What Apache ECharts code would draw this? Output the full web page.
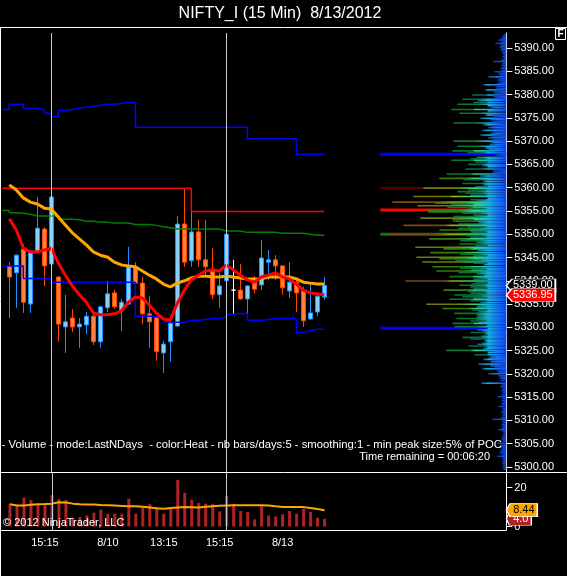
<!DOCTYPE html>
<html><head><meta charset="utf-8">
<script src="https://cdn.jsdelivr.net/npm/echarts@6/dist/echarts.min.js"></script>
<style>html,body{margin:0;padding:0;background:#000;}#c{width:567px;height:576px;}</style>
</head><body><div id="c"></div>
<script>
// ---------------- data ----------------
const times = ['8/9 14:00','8/9 14:15','8/9 14:30','8/9 14:45','8/9 15:00','8/9 15:15','8/9 15:30',
 '8/10 09:30','8/10 09:45','8/10 10:00','8/10 10:15','8/10 10:30','8/10 10:45','8/10 11:00','8/10 11:15','8/10 11:30','8/10 11:45',
 '8/10 12:00','8/10 12:15','8/10 12:30','8/10 12:45','8/10 13:00','8/10 13:15','8/10 13:30','8/10 13:45','8/10 14:00','8/10 14:15',
 '8/10 14:30','8/10 14:45','8/10 15:00','8/10 15:15','8/10 15:30',
 '8/13 09:30','8/13 09:45','8/13 10:00','8/13 10:15','8/13 10:30','8/13 10:45','8/13 11:00','8/13 11:15','8/13 11:30','8/13 11:45',
 '8/13 12:00','8/13 12:15','8/13 12:30','8/13 12:45'];
const tickIdx  = [5, 14, 22, 30, 39];
const tickText = ['15:15', '8/10', '13:15', '15:15', '8/13'];
const sessionBreaks = [6, 31];

const opens  = [5343.2,5341.7,5346.8,5335.0,5346.2,5351.1,5343.6,5340.8,5330.1,5332.0,5330.1,5330.5,5332.4,5326.9,5334.2,5337.4,5333.5,5335.0,5343.0,5339.5,5332.9,5332.0,5324.5,5326.9,5330.3,5352.2,5344.3,5350.5,5344.5,5342.5,5337.0,5340.0,5338.0,5338.0,5336.1,5340.0,5339.1,5344.0,5344.5,5343.2,5337.8,5339.7,5337.8,5331.8,5333.3,5336.5];
const closes = [5340.8,5345.5,5335.4,5346.4,5351.3,5343.2,5358.0,5330.7,5331.2,5330.1,5330.7,5332.4,5326.9,5334.4,5337.2,5334.4,5335.4,5343.0,5339.5,5332.9,5331.2,5324.8,5326.4,5330.9,5352.2,5344.0,5350.5,5344.5,5343.0,5337.0,5338.9,5350.0,5338.0,5336.1,5338.9,5338.2,5344.9,5344.5,5343.2,5338.5,5339.7,5337.4,5331.4,5333.1,5336.7,5339.0];
const lows   = [5332.0,5334.2,5333.1,5333.1,5346.0,5338.9,5343.4,5326.9,5324.5,5329.0,5325.6,5328.6,5326.2,5325.6,5333.3,5334.0,5329.2,5334.8,5337.4,5330.7,5325.6,5322.8,5320.2,5322.6,5330.0,5343.0,5343.0,5343.0,5341.0,5336.1,5334.2,5338.5,5332.9,5336.0,5331.4,5337.4,5338.0,5340.2,5340.2,5337.0,5336.3,5333.3,5330.1,5331.6,5332.4,5335.9];
const highs  = [5344.0,5345.7,5347.9,5346.6,5358.0,5351.5,5358.3,5341.0,5337.0,5333.9,5332.0,5333.3,5333.1,5334.6,5340.0,5338.0,5336.1,5347.3,5344.0,5340.8,5336.7,5332.2,5327.1,5332.6,5353.9,5359.9,5356.9,5353.1,5353.1,5347.0,5341.7,5353.9,5344.5,5343.6,5339.1,5341.0,5348.8,5346.6,5345.5,5343.4,5344.0,5340.2,5338.7,5339.3,5337.4,5340.8];

const fastMA = [5353.3,5350.9,5347.0,5346.2,5346.2,5346.6,5347.0,5343.8,5341.2,5338.9,5337.0,5335.4,5333.1,5332.7,5332.7,5332.9,5333.5,5335.4,5336.5,5336.3,5334.8,5333.1,5331.8,5331.6,5335.2,5338.0,5340.2,5341.2,5342.1,5342.3,5342.1,5343.4,5342.3,5341.2,5340.2,5339.7,5340.8,5341.2,5341.7,5340.8,5340.4,5339.3,5338.0,5337.4,5337.2,5336.95];
const slowMA = [5360.6,5359.5,5357.8,5356.9,5356.5,5355.6,5355.4,5353.7,5352.0,5350.3,5349.0,5347.7,5346.2,5345.5,5345.1,5344.0,5343.4,5343.2,5343.0,5342.1,5341.2,5340.4,5339.3,5338.7,5339.5,5340.0,5340.6,5341.0,5341.0,5340.8,5340.8,5341.0,5340.8,5340.6,5340.4,5340.4,5340.4,5340.8,5340.8,5340.8,5340.8,5340.4,5339.7,5339.5,5339.3,5339.3];

// step indicators: first value belongs to the bar before the first visible candle (index -1)
const greenStep = [5355.1,5354.6,5354.5,5354.3,5353.9,5353.9,5353.9,5353.9,5353.2,5353.2,5353.1,5352.8,5352.8,5352.6,5352.6,5352.4,5352.4,5352.4,5352.1,5352.1,5352.1,5351.9,5351.6,5351.4,5351.1,5351.1,5351.1,5351.1,5351.1,5351.1,5351.1,5350.7,5350.7,5350.7,5350.4,5350.4,5350.4,5350.4,5350.4,5350.2,5350.2,5350.2,5350.2,5350.0,5349.8,5349.8,5349.8];
const upperBand = [5376.8,5377.9,5377.9,5377.05,5377.05,5376.8,5376.0,5375.3,5376.6,5376.8,5377.05,5377.3,5377.5,5377.7,5377.9,5377.9,5378.1,5378.3,5378.3,5373.0,5373.0,5373.0,5373.0,5373.0,5373.0,5373.0,5373.0,5373.0,5373.0,5373.0,5373.0,5373.0,5373.0,5373.0,5373.0,5370.5,5370.5,5370.5,5370.5,5370.5,5370.5,5370.5,5367.2,5367.2,5367.2,5367.2,5367.2];
const lowerBand = [5343.2,5343.2,5343.2,5340.5,5340.5,5340.5,5340.5,5339.7,5339.7,5339.7,5339.7,5339.7,5339.7,5339.7,5339.7,5339.7,5339.7,5339.7,5339.7,5332.4,5332.4,5332.4,5332.4,5331.2,5331.1,5331.1,5331.5,5331.5,5331.7,5331.9,5331.9,5332.2,5332.8,5333.0,5333.0,5331.5,5331.5,5331.7,5331.9,5331.9,5331.9,5331.9,5328.9,5329.3,5329.6,5329.6,5329.6];
const priorHigh = [5359.9,5359.9,5359.9,5359.9,5359.9,5359.9,5359.9,5359.9,5359.9,5359.9,5359.9,5359.9,5359.9,5359.9,5359.9,5359.9,5359.9,5359.9,5359.9,5359.9,5359.9,5359.9,5359.9,5359.9,5359.9,5359.9,5359.9,5354.9,5354.9,5354.9,5354.9,5354.9,5354.9,5354.9,5354.9,5354.9,5354.9,5354.9,5354.9,5354.9,5354.9,5354.9,5354.9,5354.9,5354.9,5354.9,5354.9];

const volumes = [11.8,11.0,15.0,13.6,11.0,11.0,16.2,14.1,13.6,4.5,4.9,5.7,7.1,8.7,6.6,6.6,6.6,14.4,6.6,9.7,11.5,9.7,6.6,9.7,24.0,17.4,13.9,12.2,11.8,11.5,7.8,15.7,11.5,8.0,7.5,3.7,10.4,5.7,5.2,6.3,8.0,6.6,9.2,7.5,4.5,4.0];
const volMA   = [11.5,10.8,10.8,11.2,11.5,11.6,11.8,12.5,12.4,11.8,11.5,11.4,11.3,11.1,11.0,10.8,10.6,10.4,10.5,10.2,9.8,9.4,9.2,9.6,9.8,10.0,9.9,9.8,10.2,10.5,10.7,10.9,11.0,11.0,11.0,11.0,11.0,10.8,10.4,10.1,10.1,10.1,10.0,9.6,9.0,8.44];

const profPrices = [5392.8,5392.4,5392.0,5391.7,5391.3,5391.0,5390.6,5390.2,5389.9,5389.6,
 5389.2,5388.9,5388.5,5388.1,5387.7,5387.4,5387.1,5386.7,5386.3,5385.9,
 5385.6,5385.2,5384.9,5384.5,5384.2,5383.8,5383.4,5383.1,5382.7,5382.4,
 5382.1,5381.7,5381.3,5381.0,5380.6,5380.3,5379.9,5379.6,5379.3,5379.0,
 5378.7,5378.3,5377.9,5377.6,5377.2,5376.8,5376.5,5376.0,5375.6,5375.3,
 5374.9,5374.6,5374.25,5373.9,5373.5,5373.2,5372.9,5372.6,5372.3,5372.0,
 5371.65,5371.3,5371.0,5370.7,5370.35,5370.0,5369.7,5369.4,5369.2,5368.9,
 5368.5,5368.2,5367.9,5367.5,5367.2,5366.9,5366.5,5366.2,5365.9,5365.5,
 5365.0,5364.75,5364.5,5364.0,5363.6,5363.3,5362.95,5362.5,5362.0,5361.7,
 5361.3,5360.9,5360.6,5360.2,5359.9,5359.5,5359.15,5358.8,5358.4,5358.1,
 5357.75,5357.4,5357.15,5356.9,5356.65,5356.4,5356.1,5355.8,5355.5,5355.15,
 5354.8,5354.5,5354.1,5353.8,5353.45,5353.1,5352.8,5352.5,5352.2,5351.9,
 5351.6,5351.3,5350.9,5350.6,5350.3,5350.0,5349.7,5349.35,5349.0,5348.6,
 5348.3,5347.9,5347.55,5347.2,5346.85,5346.5,5346.05,5345.7,5345.35,5345.05,
 5344.75,5344.4,5344.05,5343.75,5343.45,5343.0,5342.7,5342.4,5342.1,5341.8,
 5341.5,5341.2,5340.9,5340.6,5340.3,5339.95,5339.6,5339.3,5339.05,5338.7,
 5338.35,5338.0,5337.7,5337.35,5336.95,5336.6,5336.3,5336.05,5335.7,5335.3,
 5334.95,5334.6,5334.35,5334.05,5333.7,5333.35,5333.0,5332.7,5332.45,5332.2,
 5331.9,5331.6,5331.35,5331.1,5330.85,5330.5,5330.15,5329.8,5329.45,5329.2,
 5328.9,5328.6,5328.35,5328.1,5327.85,5327.5,5327.2,5326.9,5326.6,5326.35,
 5326.0,5325.7,5325.45,5325.05,5324.75,5324.55,5324.1,5323.85,5323.6,5323.35,
 5323.1,5322.85,5322.6,5322.35,5322.1,5321.7,5321.4,5321.1,5320.85,5320.6,
 5320.3,5320.05,5319.6,5319.3,5319.0,5318.6,5318.0,5317.6,5317.2,5316.8,
 5316.4,5316.0,5315.5,5315.1,5314.7,5314.3,5313.9,5313.5,5313.0,5312.6,
 5312.2,5311.8,5311.4,5311.0,5310.6,5310.25,5309.9,5309.5,5309.1,5308.7,
 5308.3,5308.0,5307.6,5307.2,5306.8,5306.4,5306.0,5305.6,5305.1,5304.7,
 5304.3,5303.9,5303.5,5303.1,5302.7,5302.3,5301.9,5301.5,5301.1,5300.7,
 5300.3,5299.9,5299.5];
const profVols = [3,4,5,8,5,11,6,7,5,6,
 4,4,3,4,3,5,13,4,5,4,
 6,5,12,8,7,18,8,9,7,9,
 23,11,10,21,13,12,34,13,12,44,
 29,33,49,19,16,55,19,47,21,14,
 26,16,14,53,23,15,18,14,24,13,
 16,26,15,18,14,53,16,14,17,49,
 21,18,54,39,11,11,30,36,55,31,
 38,24,19,41,13,14,60,26,67,43,
 23,44,23,31,83,38,49,41,36,93,
 19,36,30,114,71,55,89,59,38,79,
 78,44,33,53,86,54,53,28,48,103,
 39,48,67,36,34,118,40,36,77,46,
 30,47,31,91,63,29,76,46,33,90,
 67,51,84,33,23,74,46,35,70,48,
 30,23,57,30,33,101,31,35,47,36,
 33,63,39,36,52,44,33,57,36,26,
 80,29,30,64,34,28,52,30,28,30,
 50,30,36,28,54,20,52,19,29,24,
 36,22,19,25,44,36,22,21,24,29,
 38,20,23,60,18,19,32,17,16,18,
 23,15,16,14,28,16,12,24,10,9,
 8,18,8,7,6,6,25,5,6,4,
 5,4,5,9,4,5,4,5,8,4,
 4,5,4,4,5,14,4,4,5,4,
 5,8,4,3,4,4,5,4,9,6,
 7,5,6,7,5,9,4,4,4,4,
 3,4,3];
const peakPrices = [5367.2, 5359.9, 5355.2, 5350.0, 5329.8];
const peakKinds  = ['low', 'high', 'poc', 'mid', 'low'];

const priceTicks = [5300,5305,5310,5315,5320,5325,5330,5335,5340,5345,5350,5355,5360,5365,5370,5375,5380,5385,5390];
const volTicks = [0, 20];

// ---------------- styles ----------------
const FONT = '"Liberation Sans", Arial, sans-serif';
const X_MIN = -1, X_MAX = 71;
const PROFILE_MAX = 504;
const PEAK_REACH = 126;
const ROW_H = 0.34;
const peakStyle = {
  low:  {color: '#0000ff', h: 3},
  high: {color: '#8b0000', h: 1.3},
  poc:  {color: '#ff0000', h: 3.2},
  mid:  {color: '#008000', h: 3}
};
const SHADES = [
  [16, '#0a38b0', null],
  [30, '#0a5c86', null],
  [45, '#0a6a4c', null],
  [62, '#08782e', null],
  [80, '#2f8010', '#58c820'],
  [100, '#747a00', '#a0c000'],
  [Infinity, '#7a4a10', '#a0a000']
];
function rowFill(L) {
  if (L < 16) return new echarts.graphic.LinearGradient(0,0,1,0,[{offset:0,color:'#0a36b0'},{offset:1,color:'#1656ff'}]);
  let dark = '#0a38b0', bright = null;
  for (const s of SHADES) { if (L < s[0]) { dark = s[1]; bright = s[2]; break; } }
  const stops = [{offset:0, color:dark}];
  const minOff = L > 30 ? 0.4 : 0.05;
  if (L > 30) stops.push({offset:0.4, color:dark});
  const marks = [];
  if (bright) marks.push([55, bright]);
  marks.push([32, L > 45 ? '#30d070' : '#18b0b0']);
  marks.push([18, '#18b0e0']);
  marks.push([9, '#1478f4']);
  for (const m of marks) { const f = 1 - m[0] / L; if (f > minOff) stops.push({offset:f, color:m[1]}); }
  stops.push({offset:1, color:'#1048ff'});
  return new echarts.graphic.LinearGradient(0,0,1,0,stops);
}
function profItem(params, api) {
  const v = api.value(0), p = api.value(1);
  const a = api.coord([0, p]);
  const b = api.coord([v, p]);
  const h = api.size([0, ROW_H])[1];
  return {type:'rect', shape:{x:b[0], y:a[1]-h/2, width:a[0]-b[0], height:h}, style:{fill: rowFill(a[0]-b[0])}};
}
function peakItem(params, api) {
  const p = api.value(1);
  const st = peakStyle[peakKinds[params.dataIndex]];
  const a = api.coord([0, p]);
  const b = api.coord([PEAK_REACH, p]);
  return {type:'rect', shape:{x:b[0], y:a[1]-st.h/2, width:a[0]-b[0], height:st.h}, style:{fill: st.color}};
}
const TAG_PATH = 'path://M0,6.5L6,0L50,0L50,13L6,13Z';
function tag(value, text, bg, fg, w, z) {
  return {
    symbol: TAG_PATH, symbolSize: [w, 13], symbolOffset: [w / 2, 0], symbolKeepAspect: false, z: z, silent: true,
    itemStyle: {color: bg, borderColor: '#ffffff', borderWidth: 1},
    label: {show: true, position: 'inside', color: fg, fontSize: 11, fontFamily: FONT, offset: [2, 0], formatter: text},
    data: [{coord: [X_MAX, value]}]
  };
}
const sessionLines = {
  silent: true, symbol: 'none', z: 6, animation: false,
  lineStyle: {color: '#c8c8c8', width: 1, type: 'solid'}, label: {show: false},
  data: sessionBreaks.map(i => ({xAxis: i}))
};
const stepData = arr => arr.map((v, k) => [k - 1, v]);
const lineSeries = (name, data, color, width, z, extra) => Object.assign({
  type: 'line', name, xAxisIndex: 0, yAxisIndex: 0, data, showSymbol: false, symbol: 'none', z,
  lineStyle: {color, width}, itemStyle: {color}, silent: true
}, extra || {});
const hiddenAxis = {show: false, splitLine: {show: false}, axisTick: {show: false}, axisLine: {show: false, onZero: false}, axisLabel: {show: false}};

const chart = echarts.init(document.getElementById('c'), null, {renderer: 'canvas'});
chart.setOption({
  backgroundColor: '#000000',
  animation: false,
  textStyle: {fontFamily: FONT},
  grid: [
    {left: 2.33, top: 33, width: 504, height: 439},
    {left: 2.33, top: 473, width: 504, height: 57}
  ],
  xAxis: [
    Object.assign({gridIndex: 0, type: 'value', min: X_MIN, max: X_MAX}, hiddenAxis),
    Object.assign({gridIndex: 0, type: 'value', min: 0, max: PROFILE_MAX, inverse: true}, hiddenAxis),
    {gridIndex: 1, type: 'value', min: X_MIN, max: X_MAX, interval: 1,
     axisLine: {show: false, onZero: false}, axisTick: {show: false}, splitLine: {show: false},
     axisLabel: {color: '#ffffff', fontSize: 11, margin: 7, fontFamily: FONT,
       formatter: v => { const k = tickIdx.indexOf(v); return k >= 0 ? tickText[k] : ''; }}}
  ],
  yAxis: [
    {gridIndex: 0, type: 'value', position: 'right', min: 5298.93, max: 5393.22,
     axisLine: {show: true, onZero: false, lineStyle: {color: '#ffffff', width: 1}},
     axisTick: {show: true, length: 6, lineStyle: {color: '#ffffff'}, customValues: priceTicks},
     axisLabel: {color: '#ffffff', fontSize: 11, margin: 8, fontFamily: FONT, customValues: priceTicks, formatter: v => v.toFixed(2)},
     splitLine: {show: false}, minorTick: {show: false}, minorSplitLine: {show: false}},
    {gridIndex: 1, type: 'value', position: 'right', min: -1.8, max: 27.6,
     axisLine: {show: true, onZero: false, lineStyle: {color: '#ffffff', width: 1}},
     axisTick: {show: true, length: 6, lineStyle: {color: '#ffffff'}, customValues: volTicks},
     axisLabel: {color: '#ffffff', fontSize: 11, margin: 8, fontFamily: FONT, customValues: volTicks, formatter: v => String(v)},
     splitLine: {show: false}}
  ],
  series: [
    {type: 'custom', name: 'peaks', xAxisIndex: 1, yAxisIndex: 0, z: 1, silent: true, clip: true,
     renderItem: peakItem, encode: {x: 0, y: 1}, data: peakPrices.map(p => [0, p])},
    {type: 'custom', name: 'profile', xAxisIndex: 1, yAxisIndex: 0, z: 2, silent: true, clip: true,
     renderItem: profItem, encode: {x: 0, y: 1}, data: profVols.map((v, i) => [v, profPrices[i]])},
    {type: 'candlestick', name: 'NIFTY_I', xAxisIndex: 0, yAxisIndex: 0, z: 3, barWidth: 4, silent: true,
     encode: {x: 0, y: [1, 2, 3, 4]},
     data: opens.map((o, i) => [i, o, closes[i], lows[i], highs[i]]),
     itemStyle: {color: '#87cefa', color0: '#ff8040', borderColor: '#1e90ff', borderColor0: '#ff4500', borderColorDoji: '#ffffff', borderWidth: 1},
     markPoint: tag(closes[closes.length - 1], closes[closes.length - 1].toFixed(2), '#000000', '#ffffff', 49, 10)},
    lineSeries('green', stepData(greenStep), '#008000', 1.5, 4, {step: 'end'}),
    lineSeries('upper', stepData(upperBand), '#0000ff', 1.5, 4, {step: 'end'}),
    lineSeries('lower', stepData(lowerBand), '#0000ff', 1.5, 4, {step: 'end'}),
    lineSeries('priorHigh', stepData(priorHigh), '#ff0000', 1.5, 4, {step: 'end'}),
    lineSeries('slowMA', slowMA.map((v, i) => [i, v]), '#ffa500', 3, 5, {markLine: sessionLines}),
    lineSeries('fastMA', fastMA.map((v, i) => [i, v]), '#ff0000', 3, 5,
      {markPoint: tag(fastMA[fastMA.length - 1], fastMA[fastMA.length - 1].toFixed(2), '#ff0000', '#ffffff', 49, 11)}),
    {type: 'bar', name: 'volume', xAxisIndex: 2, yAxisIndex: 1, barWidth: 3, silent: true,
     data: volumes.map((v, i) => [i, v]), itemStyle: {color: '#b22222'},
     markLine: sessionLines,
     markPoint: tag(volumes[volumes.length - 1], volumes[volumes.length - 1].toFixed(1), '#b22222', '#ffffff', 25, 10)},
    {type: 'line', name: 'volMA', xAxisIndex: 2, yAxisIndex: 1, showSymbol: false, symbol: 'none', silent: true, z: 4,
     data: volMA.map((v, i) => [i, v]), lineStyle: {color: '#ffa500', width: 2}, itemStyle: {color: '#ffa500'},
     markPoint: tag(volMA[volMA.length - 1], volMA[volMA.length - 1].toFixed(2), '#ffa500', '#000000', 31, 11)}
  ],
  graphic: [
    {type: 'line', silent: true, z: 100, shape: {x1: 0, y1: 27.5, x2: 567, y2: 27.5}, style: {stroke: '#ffffff', lineWidth: 1}},
    {type: 'line', silent: true, z: 100, shape: {x1: 0, y1: 472.5, x2: 567, y2: 472.5}, style: {stroke: '#ffffff', lineWidth: 1}},
    {type: 'line', silent: true, z: 100, shape: {x1: 0, y1: 530.5, x2: 506.5, y2: 530.5}, style: {stroke: '#ffffff', lineWidth: 1}},
    {type: 'line', silent: true, z: 100, shape: {x1: 0.5, y1: 27, x2: 0.5, y2: 576}, style: {stroke: '#ffffff', lineWidth: 1}},
    {type: 'rect', silent: true, z: 100, shape: {x: 555.5, y: 28.5, width: 10, height: 11}, style: {fill: '#000000', stroke: '#ffffff', lineWidth: 1}},
    {type: 'text', silent: true, z: 101, x: 560.5, y: 34.5, style: {text: 'F', fill: '#ffffff', font: 'bold 10px ' + FONT, textAlign: 'center', textVerticalAlign: 'middle', align: 'center', verticalAlign: 'middle'}},
    {type: 'text', silent: true, z: 101, x: 280, y: 13.5, style: {text: 'NIFTY_I (15 Min)  8/13/2012', fill: '#ffffff', font: '16px ' + FONT, textAlign: 'center', textVerticalAlign: 'middle', align: 'center', verticalAlign: 'middle'}},
    {type: 'text', silent: true, z: 101, x: 502, y: 445, style: {text: '\u00b7 - Volume - mode:LastNDays  - color:Heat - nb bars/days:5 - smoothing:1 - min peak size:5% of POC', fill: '#ffffff', font: '11.3px ' + FONT, textAlign: 'right', textVerticalAlign: 'middle', align: 'right', verticalAlign: 'middle'}},
    {type: 'text', silent: true, z: 101, x: 490, y: 457, style: {text: 'Time remaining = 00:06:20', fill: '#ffffff', font: '11px ' + FONT, textAlign: 'right', textVerticalAlign: 'middle', align: 'right', verticalAlign: 'middle'}},
    {type: 'text', silent: true, z: 101, x: 3, y: 523, style: {text: '\u00a9 2012 NinjaTrader, LLC', fill: '#ffffff', font: '11px ' + FONT, textAlign: 'left', textVerticalAlign: 'middle', align: 'left', verticalAlign: 'middle'}}
  ]
});
</script></body></html>
